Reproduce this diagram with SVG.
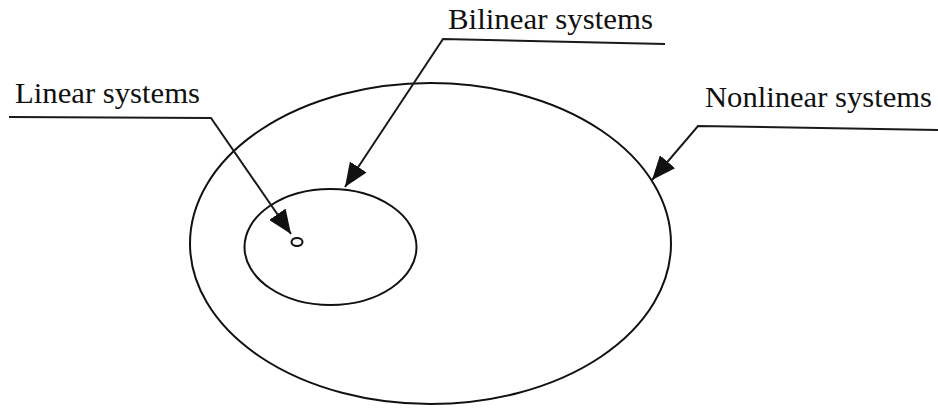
<svg xmlns="http://www.w3.org/2000/svg" width="938" height="410" viewBox="0 0 938 410">
<style>
.sh{fill:none;stroke:#111;stroke-width:2}
.ln{fill:none;stroke:#1a1a1a;stroke-width:2}
.lb{font-family:"Liberation Serif","Times New Roman",serif;font-size:30px;fill:#111}
</style>
<defs>
<marker id="ah" markerUnits="userSpaceOnUse" markerWidth="26" markerHeight="20" refX="24" refY="10" orient="auto">
<path d="M0,0 L24,10 L0,20 Z" fill="#111"/>
</marker>
</defs>
<rect width="938" height="410" fill="#fff"/>
<g id="nonlinear">
<ellipse class="sh" cx="430.5" cy="243.5" rx="240.5" ry="160.5"/>
<text class="lb" x="705" y="107" textLength="227" lengthAdjust="spacingAndGlyphs">Nonlinear systems</text>
</g>
<g id="bilinear">
<ellipse class="sh" cx="330.5" cy="247" rx="86" ry="58"/>
<text class="lb" x="448" y="29" textLength="205" lengthAdjust="spacingAndGlyphs">Bilinear systems</text>
</g>
<g id="linear">
<ellipse class="sh" cx="297" cy="242" rx="5.5" ry="4"/>
<text class="lb" x="15" y="103" textLength="185" lengthAdjust="spacingAndGlyphs">Linear systems</text>
</g>
<g id="connectors">
<path class="ln" d="M9,117 L211,118 L291,234" marker-end="url(#ah)"/>
<path class="ln" d="M665,44 L443,39 L345,187" marker-end="url(#ah)"/>
<path class="ln" d="M938,130 L698,126 L652,180" marker-end="url(#ah)"/>
</g>
</svg>
